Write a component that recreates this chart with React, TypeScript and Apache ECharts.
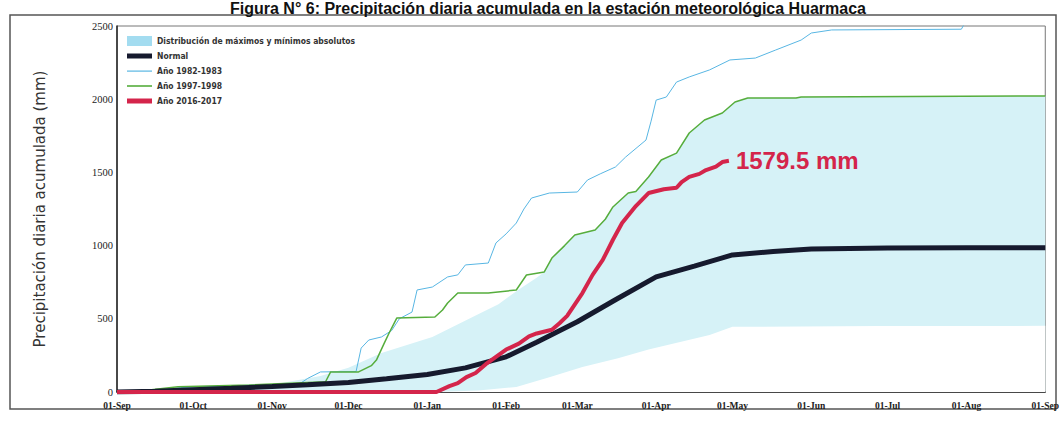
import React, { useEffect, useRef } from "react";
import * as echarts from "echarts";

const monthStartDays = [0, 30, 61, 91, 122, 153, 181, 212, 242, 273, 303, 334, 365];
const monthLabels = ["01-Sep", "01-Oct", "01-Nov", "01-Dec", "01-Jan", "01-Feb", "01-Mar", "01-Apr", "01-May", "01-Jun", "01-Jul", "01-Aug", "01-Sep"];
const yTicks = [0, 500, 1000, 1500, 2000, 2500];

const bandMax: [number, number][] = [
  [0, 0], [30, 20], [61, 50], [80, 110], [91, 165], [104, 266], [124, 376], [143, 540], [150, 600],
  [158, 700], [165, 780], [168, 820], [171, 915], [176, 1000], [180, 1072], [188, 1106], [192, 1180],
  [195, 1264], [201, 1359], [204, 1370], [209, 1469], [214, 1585], [220, 1632], [225, 1769], [231, 1858],
  [238, 1906], [243, 1981], [248, 2008], [267, 2008], [269, 2015], [365, 2022],
];
const bandMin: [number, number][] = [
  [0, 0], [125, 0], [142, 10], [157, 34], [170, 100], [183, 170], [197, 230], [209, 290], [221, 340],
  [233, 390], [242, 445], [300, 450], [365, 452],
];
const normal: [number, number][] = [
  [0, 0], [15, 5], [30, 15], [45, 25], [61, 38], [75, 50], [91, 65], [106, 90], [122, 120], [137, 165],
  [153, 240], [165, 340], [181, 480], [196, 630], [212, 786], [227, 860], [242, 936], [258, 960],
  [273, 977], [303, 983], [334, 985], [365, 985],
];
const y1982: [number, number][] = [
  [0, 0], [10, 5], [25, 30], [50, 45], [72, 58], [75, 93], [80, 137], [94, 140], [96, 300], [99, 355],
  [104, 376], [108, 420], [111, 500], [116, 546], [118, 697], [124, 717], [130, 786], [134, 800],
  [137, 868], [146, 881], [149, 1018], [153, 1080], [157, 1154], [160, 1250], [163, 1325], [170, 1359],
  [181, 1366], [185, 1448], [190, 1490], [196, 1537], [200, 1605], [208, 1721], [210, 1850], [212, 1994],
  [216, 2015], [220, 2117], [225, 2152], [233, 2200], [241, 2268], [251, 2281], [259, 2336], [269, 2404],
  [273, 2452], [281, 2473], [332, 2478], [334, 2540], [365, 2540],
];
const y1997: [number, number][] = [
  [0, 0], [10, 8], [24, 36], [52, 48], [82, 70], [84, 137], [95, 137], [100, 180], [102, 218], [105, 330],
  [107, 403], [110, 505], [125, 512], [128, 560], [130, 608], [134, 676], [146, 676], [157, 697],
  [161, 799], [168, 820], [171, 915], [176, 1000], [180, 1072], [188, 1106], [192, 1180], [195, 1264],
  [201, 1359], [204, 1370], [209, 1469], [214, 1585], [220, 1632], [225, 1769], [231, 1858], [238, 1906],
  [243, 1981], [248, 2008], [267, 2008], [269, 2015], [365, 2022],
];
const y2016: [number, number][] = [
  [0, 0], [125.6, 0], [130.7, 40], [134, 60], [137.4, 102], [141, 130], [145, 190], [149, 240], [153, 290],
  [158, 330], [162, 380], [165, 400], [171, 425], [174, 470], [177, 520], [183, 676], [187, 800],
  [191, 902], [195, 1040], [198.6, 1154], [204, 1270], [209, 1359], [215, 1385], [220, 1395], [222, 1434],
  [225, 1469], [229, 1490], [231.6, 1516], [235.5, 1540], [238, 1571], [240.6, 1579.5],
];

const bandName = "Distribución de máximos y mínimos absolutos";
const titleText = "Figura N° 6: Precipitación diaria acumulada en la estación meteorológica Huarmaca";

const thickIcon = "path://M0,0M25,10M0,2.5h25v5h-25z";
const thinIcon = "path://M0,0M25,10M0,4.5h25v1.2h-25z";
const midIcon = "path://M0,0M25,10M0,4.2h25v1.6h-25z";

export default function App() {
  const ref = useRef<HTMLDivElement>(null);
  useEffect(() => {
    if (!ref.current) return;
    const chart = echarts.init(ref.current, null, { renderer: "svg" });
    chart.setOption({
      animation: false,
      backgroundColor: "#ffffff",
      grid: { left: 117, right: 15, top: 26, bottom: 29, show: true, borderColor: "#777", borderWidth: 1 },
      legend: {
        orient: "vertical",
        left: 122,
        top: 31,
        itemGap: 5,
        itemWidth: 25,
        itemHeight: 10,
        textStyle: { fontSize: 8.5, fontWeight: "bold", color: "#333", fontFamily: "DejaVu Sans Condensed" },
        data: [
          { name: bandName, icon: "rect", itemStyle: { color: "#a3dcf0" } },
          { name: "Normal", icon: thickIcon },
          { name: "Año 1982-1983", icon: thinIcon },
          { name: "Año 1997-1998", icon: midIcon },
          { name: "Año 2016-2017", icon: thickIcon },
        ],
      },
      xAxis: {
        type: "value",
        min: 0,
        max: 365,
        axisLine: { show: true, lineStyle: { color: "#222", width: 1.5 } },
        axisTick: { show: false, customValues: monthStartDays },
        splitLine: { show: false },
        axisLabel: {
          customValues: monthStartDays,
          formatter: (v: number) => monthLabels[monthStartDays.indexOf(v)] ?? "",
          fontSize: 9.5,
          fontWeight: "bold",
          color: "#222",
          fontFamily: "Liberation Serif",
          margin: 9,
          showMinLabel: true,
          showMaxLabel: true,
        },
      },
      yAxis: {
        type: "value",
        min: 0,
        max: 2500,
        interval: 500,
        name: "Precipitación diaria acumulada (mm)",
        nameLocation: "middle",
        nameGap: 70,
        nameTextStyle: { fontSize: 15, color: "#333", fontFamily: "DejaVu Sans" },
        axisLine: { show: true, lineStyle: { color: "#222", width: 1.5 } },
        axisTick: { show: false },
        splitLine: { show: false },
        axisLabel: {
          customValues: yTicks,
          formatter: (v: number) => String(v),
          fontSize: 10.5,
          color: "#222",
          fontFamily: "Liberation Serif",
          margin: 4,
        },
      },
      series: [
        {
          name: bandName,
          type: "line",
          data: bandMax,
          symbol: "none",
          lineStyle: { width: 0, color: "#c8ecf4" },
          itemStyle: { color: "#a3dcf0" },
          areaStyle: { color: "#d6f2f7", opacity: 1 },
          z: 1,
        },
        {
          name: "bandMinMask",
          type: "line",
          data: bandMin,
          symbol: "none",
          lineStyle: { width: 0 },
          areaStyle: { color: "#ffffff", opacity: 1 },
          z: 2,
          silent: true,
        },
        {
          name: "Año 1982-1983",
          type: "line",
          data: y1982,
          symbol: "none",
          lineStyle: { width: 1, color: "#58b6e3" },
          itemStyle: { color: "#58b6e3" },
          z: 3,
        },
        {
          name: "Año 1997-1998",
          type: "line",
          data: y1997,
          symbol: "none",
          lineStyle: { width: 1.5, color: "#56ad3c" },
          itemStyle: { color: "#56ad3c" },
          z: 4,
        },
        {
          name: "Normal",
          type: "line",
          data: normal,
          symbol: "none",
          lineStyle: { width: 5, color: "#161a2e" },
          itemStyle: { color: "#161a2e" },
          z: 5,
        },
        {
          name: "Año 2016-2017",
          type: "line",
          data: y2016,
          symbol: "none",
          lineStyle: { width: 4, color: "#d4254b" },
          itemStyle: { color: "#d4254b" },
          z: 6,
          endLabel: {
            show: true,
            formatter: "1579.5 mm",
            color: "#d4254b",
            fontSize: 24,
            fontWeight: "bold",
            fontFamily: "Liberation Sans",
            distance: 7,
          },
        },
      ],
      graphic: [
        {
          type: "rect",
          shape: { x: 10, y: 15, width: 1046, height: 394 },
          style: { fill: "none", stroke: "#555", lineWidth: 1.5 },
          silent: true,
          z: -1,
        },
        {
          type: "text",
          x: 548,
          y: 0,
          style: {
            text: titleText,
            fontSize: 16,
            fontWeight: "bold",
            fontFamily: "Liberation Sans",
            fill: "#111",
            align: "center",
            verticalAlign: "top",
          },
          z: 10,
        },
      ],
    });
    return () => chart.dispose();
  }, []);
  return <div ref={ref} style={{ position: "fixed", left: 0, top: 0, width: 1062, height: 421 }} />;
}
